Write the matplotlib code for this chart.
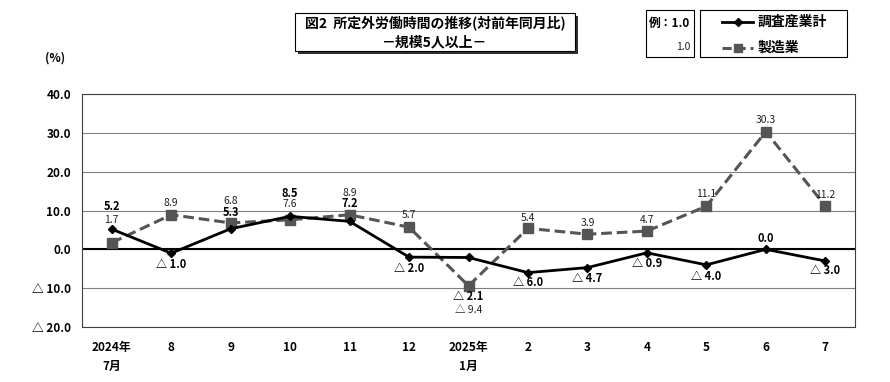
import matplotlib
matplotlib.use('Agg')
import matplotlib.pyplot as plt
from matplotlib.patches import Rectangle
from matplotlib.lines import Line2D

plt.rcParams['font.family'] = ['Noto Sans CJK JP', 'DejaVu Sans']

# データ
months = ['2024年\n7月', '8', '9', '10', '11', '12', '2025年\n1月', '2', '3', '4', '5', '6', '7']
total = [5.2, -1.0, 5.3, 8.5, 7.2, -2.0, -2.1, -6.0, -4.7, -0.9, -4.0, 0.0, -3.0]   # 調査産業計
manuf = [1.7, 8.9, 6.8, 7.6, 8.9, 5.7, -9.4, 5.4, 3.9, 4.7, 11.1, 30.3, 11.2]     # 製造業
yticks = [40, 30, 20, 10, 0, -10, -20]

# ラベルの上下の位置 (px, 上がプラス)
total_off = [23, -11, 16, 23, 18, -11, -39, -10, -11, -11, -12, 11, -10]
manuf_off = [23, 12, 22, 16, 22, 12, -24, 10, 11, 11, 12, 12, 11]


def fmt(v):
    if v < 0:
        return '△ ' + format(-v, '.1f')
    return format(v, '.1f')


fig = plt.figure(figsize=(8.9, 3.82), dpi=100)
ax = fig.add_axes([82 / 890, 55 / 382, 773 / 890, 233 / 382])

x = list(range(len(months)))
ax.plot(x, manuf, color='#555555', lw=2.2, ls=(0, (3.5, 1.6)), marker='s', ms=7,
        markerfacecolor='#555555', markeredgecolor='#555555', zorder=3)
ax.plot(x, total, color='black', lw=2.0, marker='D', ms=4.5, zorder=4)

ax.set_xlim(-0.5, len(months) - 0.5)
ax.set_ylim(-20, 40)
ax.set_yticks(yticks)
ax.set_yticklabels([fmt(float(v)) for v in yticks], fontsize=8.5, fontweight='bold')
ax.set_xticks(x)
ax.set_xticklabels(months, fontsize=8.5, fontweight='bold', va='top', linespacing=1.6)
ax.tick_params(length=0, pad=8)
ax.tick_params(axis='x', pad=10)
ax.grid(axis='y', color='#808080', lw=0.8)
ax.axhline(0, color='black', lw=1.5, zorder=2)
for s in ax.spines.values():
    s.set_color('#404040')
    s.set_linewidth(0.8)

for i in x:
    ax.annotate(fmt(total[i]), (i, total[i]), xytext=(0, total_off[i] * 0.72),
                textcoords='offset points', ha='center', va='center',
                fontsize=8, fontweight='bold', zorder=5)
    ax.annotate(fmt(manuf[i]), (i, manuf[i]), xytext=(0, manuf_off[i] * 0.72),
                textcoords='offset points', ha='center', va='center',
                fontsize=7.5, color='#222222', zorder=5)

fig.text(45 / 890, 1 - 58 / 382, '(%)', fontsize=8.5, fontweight='bold', ha='left', va='center')

# タイトルの枠 (影つき)
fig.patches.append(Rectangle((298 / 890, 1 - 54 / 382), 280 / 890, 38 / 382,
                             transform=fig.transFigure, facecolor='#303030', edgecolor='none'))
fig.patches.append(Rectangle((295 / 890, 1 - 51 / 382), 280 / 890, 38 / 382,
                             transform=fig.transFigure, facecolor='white', edgecolor='black', lw=0.8))
fig.text(435 / 890, 1 - 23 / 382, '図2  所定外労働時間の推移(対前年同月比)', fontsize=10,
         fontweight='bold', ha='center', va='center')
fig.text(435 / 890, 1 - 42 / 382, '－規模5人以上－', fontsize=10,
         fontweight='bold', ha='center', va='center')

# 例の枠
fig.patches.append(Rectangle((646 / 890, 1 - 57 / 382), 48 / 890, 47 / 382,
                             transform=fig.transFigure, facecolor='white', edgecolor='black', lw=0.8))
fig.text(690 / 890, 1 - 23 / 382, '例：1.0', fontsize=8.5, fontweight='bold', ha='right', va='center')
fig.text(690 / 890, 1 - 47 / 382, '1.0', fontsize=7.5, ha='right', va='center', color='#222222')

# 凡例の枠
fig.patches.append(Rectangle((700 / 890, 1 - 57 / 382), 147 / 890, 47 / 382,
                             transform=fig.transFigure, facecolor='white', edgecolor='black', lw=0.8))
fig.lines.append(Line2D([722 / 890, 753 / 890], [1 - 22 / 382] * 2, transform=fig.transFigure,
                        color='black', lw=2.0))
fig.lines.append(Line2D([737.5 / 890], [1 - 22 / 382], transform=fig.transFigure,
                        color='black', marker='D', ms=4.5))
fig.lines.append(Line2D([722 / 890, 753 / 890], [1 - 48 / 382] * 2, transform=fig.transFigure,
                        color='#555555', lw=2.2, ls=(0, (3, 1.6))))
fig.lines.append(Line2D([737.5 / 890], [1 - 48 / 382], transform=fig.transFigure,
                        color='#555555', marker='s', ms=6))
fig.text(758 / 890, 1 - 22 / 382, '調査産業計', fontsize=10, fontweight='bold', ha='left', va='center')
fig.text(758 / 890, 1 - 48 / 382, '製造業', fontsize=10, fontweight='bold', ha='left', va='center')

fig.savefig('out.png', dpi=100)
